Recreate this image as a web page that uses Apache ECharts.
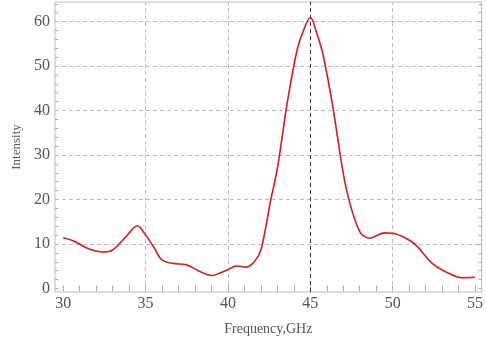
<!DOCTYPE html>
<html>
<head>
<meta charset="utf-8">
<script src="https://cdn.jsdelivr.net/npm/echarts@6/dist/echarts.min.js"></script>
<style>
  html, body { margin: 0; padding: 0; background: #fff; }
  #chart { width: 486px; height: 341px; }
</style>
</head>
<body>
<div id="chart"></div>
<script>
// values
const freq = [30, 30.6, 31.6, 32.4, 33.0, 33.8, 34.5, 35.0, 35.5, 36.0, 36.6, 37.5, 38.2, 39.0, 39.6, 40.0,
  40.5, 41.1, 41.6, 42.0, 42.6, 43.0, 43.6, 44.2, 44.6, 45.0, 45.4, 45.8, 46.4, 46.9, 47.3, 48.0, 48.6,
  49.5, 50.0, 50.8, 51.4, 52.4, 53.4, 54.2, 55.0];
const intensity = [11.4, 10.7, 8.8, 8.2, 8.65, 11.6, 14.1, 12.0, 9.25, 6.4, 5.65, 5.3, 4.0, 2.9, 3.6, 4.2,
  5.05, 4.8, 6.0, 8.65, 19.9, 27.0, 41.7, 53.6, 58.1, 60.9, 57.3, 52.1, 40.1, 28.1, 20.6, 12.8, 11.3,
  12.5, 12.4, 11.3, 9.8, 5.65, 3.4, 2.4, 2.5];

const xLabels = [30, 35, 40, 45, 50, 55];
const xTicks = [30, 31, 32, 33, 34, 35, 36, 37, 38, 39, 40, 41, 42, 43, 44, 45, 46, 47, 48, 49, 50, 51, 52, 53, 54, 55];
const yLabels = [0, 10, 20, 30, 40, 50, 60];
const yTicks = [0, 2, 4, 6, 8, 10, 12, 14, 16, 18, 20, 22, 24, 26, 28, 30, 32, 34, 36, 38, 40, 42, 44, 46, 48, 50, 52, 54, 56, 58, 60, 62, 64];
const xGrid = [35, 40, 50];
const yGrid = [10, 20, 30, 40, 50, 60];
const peakFreq = 45;

const font = "'Liberation Serif', 'DejaVu Serif', serif";
const textColor = '#555';

const chart = echarts.init(document.getElementById('chart'));

function tickAxis(pos, min, max, ticks, labels) {
  return {
    type: 'value',
    position: pos,
    min: min,
    max: max,
    axisLine: { show: false },
    axisTick: {
      show: true,
      inside: true,
      length: 3,
      customValues: ticks,
      lineStyle: { color: '#aaa' }
    },
    axisLabel: labels ? {
      customValues: labels,
      color: textColor,
      fontFamily: font,
      fontSize: 16,
      margin: pos === 'bottom' ? 4 : 5
    } : { show: false },
    splitLine: { show: false }
  };
}

const gridLine = { color: '#bbb', type: [4, 3], width: 1 };

chart.setOption({
  animation: false,
  grid: {
    left: 55,
    right: 1,
    top: 2,
    bottom: 49,
    show: true,
    borderColor: '#bbb',
    borderWidth: 1
  },
  xAxis: [
    Object.assign(tickAxis('bottom', 29.5, 55.4, xTicks, xLabels), {
      name: 'Frequency,GHz',
      nameLocation: 'middle',
      nameGap: 30,
      nameTextStyle: { color: textColor, fontFamily: font, fontSize: 14 }
    }),
    tickAxis('top', 29.5, 55.4, xTicks, null)
  ],
  yAxis: [
    Object.assign(tickAxis('left', -0.8, 64.4, yTicks, yLabels), {
      name: 'Intensity',
      nameLocation: 'middle',
      nameGap: 30,
      nameTextStyle: { color: textColor, fontFamily: font, fontSize: 13 }
    }),
    tickAxis('right', -0.8, 64.4, yTicks, null)
  ],
  series: [
    {
      type: 'line',
      data: freq.map((f, i) => [f, intensity[i]]),
      smooth: 0.35,
      showSymbol: false,
      z: 3,
      lineStyle: { color: '#d01f1f', width: 1.6 },
      markLine: {
        silent: true,
        symbol: 'none',
        label: { show: false },
        lineStyle: gridLine,
        z: 1,
        data: xGrid.map(v => ({ xAxis: v }))
          .concat(yGrid.map(v => ({ yAxis: v })))
          .concat([{ xAxis: peakFreq, lineStyle: { color: '#333', type: [4, 3], width: 1 } }])
      }
    }
  ]
});
</script>
</body>
</html>
